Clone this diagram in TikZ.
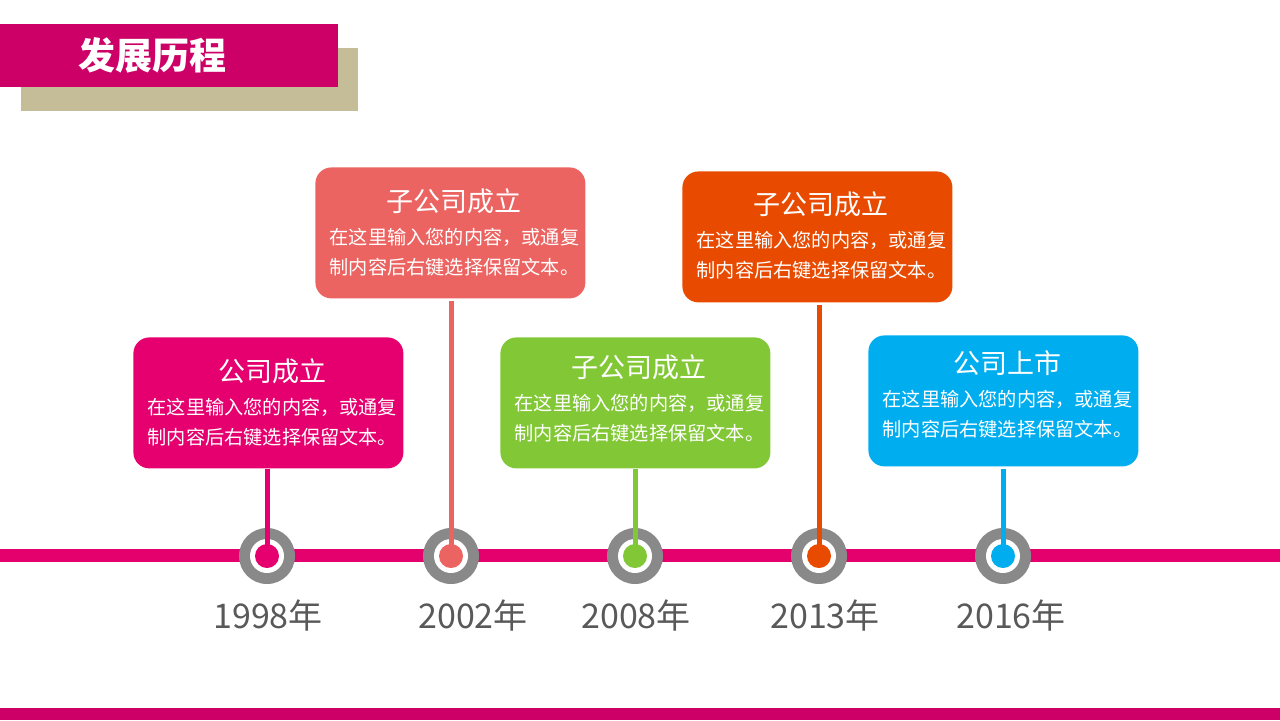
\documentclass[tikz,border=0pt]{standalone}
\usepackage{fontspec}
\setmainfont{Noto Sans CJK SC}
\definecolor{titlemag}{HTML}{CC0066}
\definecolor{tan}{HTML}{C4BD97}
\definecolor{barmag}{HTML}{E4006D}
\definecolor{cmag}{HTML}{E6006F}
\definecolor{csal}{HTML}{EC6461}
\definecolor{cgreen}{HTML}{82C836}
\definecolor{corange}{HTML}{E84B00}
\definecolor{cblue}{HTML}{00AEEF}
\definecolor{ringgray}{HTML}{898989}
\definecolor{yeargray}{HTML}{595959}
\begin{document}
\begin{tikzpicture}[x=0.5pt,y=-0.5pt,
  card/.style={rounded corners=8pt,minimum width=135pt,minimum height=65.5pt,inner sep=0pt,anchor=north west},
  cardtitle/.style={text=white,font=\fontsize{13.5pt}{16pt}\selectfont,inner sep=0pt},
  cardbody/.style={text=white,font=\fontsize{9.6pt}{12pt}\selectfont,inner sep=0pt},
  ring/.style={circle,fill=ringgray,minimum size=28pt,inner sep=0pt},
  hole/.style={circle,fill=white,minimum size=17pt,inner sep=0pt},
  dot/.style={circle,minimum size=12pt,inner sep=0pt},
  stem/.style={line width=2.5pt},
  year/.style={text=yeargray,font=\fontsize{17pt}{20pt}\selectfont,inner sep=0pt}]
\useasboundingbox (0,0) rectangle (1280,720);
% title
\fill[tan] (21,48) rectangle (358,111);
\fill[titlemag] (0,24) rectangle (338,87);
\node[text=white,font=\fontsize{18.5pt}{20pt}\selectfont\bfseries,inner sep=0pt] (title) at (152,55) {发展历程};
% bars
\fill[barmag] (0,549) rectangle (1280,562);
\fill[titlemag] (0,708) rectangle (1280,720);
% cards
\node[card,fill=cmag] (b1) at (133,337) {};
\node[card,fill=csal] (b2) at (315,167) {};
\node[card,fill=cgreen] (b3) at (500,337) {};
\node[card,fill=corange] (b4) at (682,171) {};
\node[card,fill=cblue] (b5) at (868,335) {};
\foreach \b/\dy/\t in {b1/0/公司成立,b2/0/子公司成立,b3/-4/子公司成立,b4/-1/子公司成立,b5/-6/公司上市}{
  \node[cardtitle] (\b t) at ([yshift=-(34+\dy)*0.5pt,xshift=2pt]\b.north) {\t};
  \node[cardbody] (\b l1) at ([yshift=-(70+\dy)*0.5pt,xshift=2pt]\b.north) {在这里输入您的内容，或通复};
  \node[cardbody] (\b l2) at ([yshift=-(100+\dy)*0.5pt,xshift=2pt]\b.north) {制内容后右键选择保留文本。};
}
% rings
\foreach \i/\x in {1/267,2/451,3/635,4/819,5/1003}{
  \node[ring] (r\i) at (\x,556) {};
  \node[hole] (h\i) at (\x,556) {};
}
% stems
\draw[stem,cmag] (b1.south -| r1) -- (r1.center);
\draw[stem,csal] ([yshift=-1pt]b2.south -| r2) -- (r2.center);
\draw[stem,cgreen] (b3.south -| r3) -- (r3.center);
\draw[stem,corange] ([yshift=-1pt]b4.south -| r4) -- (r4.center);
\draw[stem,cblue] ([yshift=-1pt]b5.south -| r5) -- (r5.center);
% dots
\node[dot,fill=cmag] (d1) at (r1) {};
\node[dot,fill=csal] (d2) at (r2) {};
\node[dot,fill=cgreen] (d3) at (r3) {};
\node[dot,fill=corange] (d4) at (r4) {};
\node[dot,fill=cblue] (d5) at (r5) {};
% years
\node[year] (y1) at (268,615) {1998年};
\node[year] (y2) at (473,615) {2002年};
\node[year] (y3) at (636,615) {2008年};
\node[year] (y4) at (825,615) {2013年};
\node[year] (y5) at (1011,615) {2016年};
\end{tikzpicture}
\end{document}
